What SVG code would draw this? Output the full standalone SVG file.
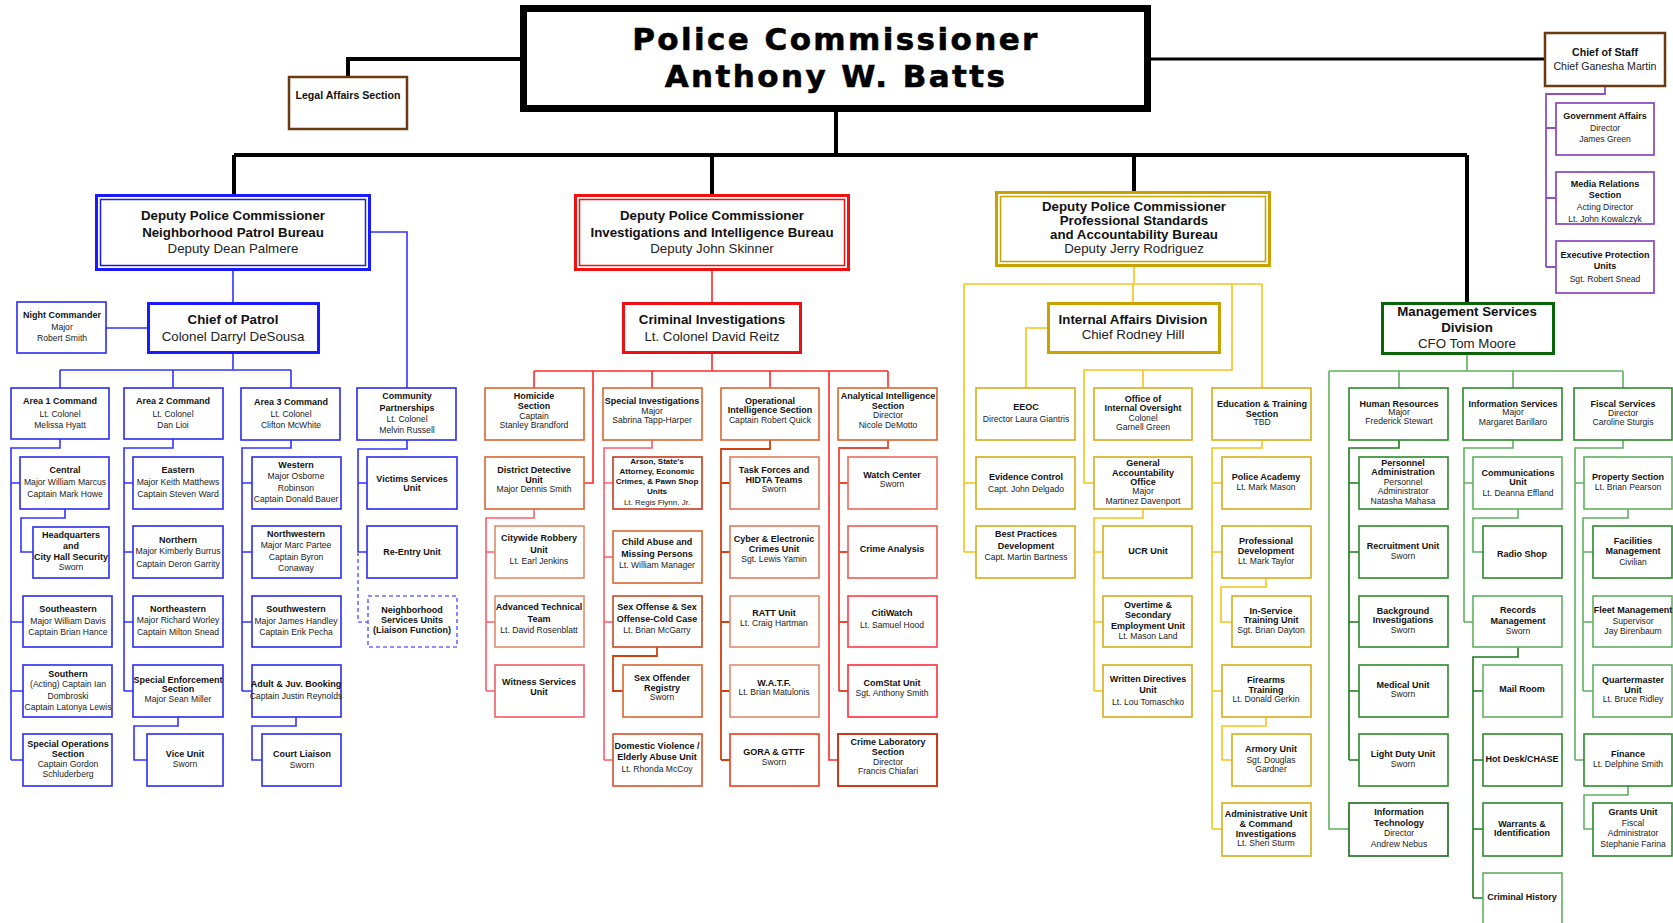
<svg xmlns="http://www.w3.org/2000/svg" width="1673" height="923" viewBox="0 0 1673 923">
<style>
text{font-family:"Liberation Sans",Arial,sans-serif;text-anchor:middle;fill:#222}
.b{font-weight:bold;fill:#111}
.s9{font-size:8.6px}
.s9 .b,.s9.b{font-size:9px}
.s8{font-size:8px}
.s10{font-size:10.6px}
.s13{font-size:13.3px}
.pc{font-family:"DejaVu Sans",sans-serif;font-weight:bold;font-size:31px;letter-spacing:2.4px;fill:#000;stroke:#000;stroke-width:0.6}
rect{fill:#fff}
.bb{stroke:#2b2bf0;stroke-width:1.6}
.bd{stroke:#6a6aff;stroke-width:1.6;stroke-dasharray:4 3}
.rb{stroke:#e8352a;stroke-width:1.6}
.ro{stroke:#d9662f;stroke-width:1.6}
.rs{stroke:#f05a64;stroke-width:1.6}
.gb{stroke:#d6ad1a;stroke-width:1.6}
.grb{stroke:#2a8a2a;stroke-width:1.6}
.grl{stroke:#5fb05f;stroke-width:1.6}
.pb{stroke:#9050c4;stroke-width:1.8}
.br{stroke:#6b3a10;stroke-width:2.5}
.lb,.lr,.lro,.lg,.lgr,.lgl,.lp,.lk,.lbd{fill:none}
.lb{stroke:#3333ff;stroke-width:1.6}
.lbd{stroke:#6a6aff;stroke-width:1.6;stroke-dasharray:4 3}
.lr{stroke:#ff2a2a;stroke-width:1.6}
.lrs{fill:none;stroke:#ff5c6a;stroke-width:1.6}
.lro{stroke:#d2400f;stroke-width:1.8}
.lg{stroke:#f5c518;stroke-width:1.6}
.lgr{stroke:#1c7a1c;stroke-width:1.6}
.lgl{stroke:#5fb05f;stroke-width:1.6}
.lp{stroke:#9050c4;stroke-width:1.8}
.lk{stroke:#000;stroke-width:4}
</style>

<g id="connectors">
  <path class="lk" d="M520 59H348V77"/>
  <path class="lk" d="M1151 59H1545" style="stroke-width:3"/>
  <path class="lk" d="M836 112V155M234 155H1467M234 155V194M712 155V194M1134 155V191M1467 155V302"/>
  <path class="lp" d="M1605 86V94H1546V267M1546 128H1556M1546 198H1556M1546 267H1556"/>
  <path class="lb" d="M371 232H407V388M233 271V302M106 328H147M233 354V370M60 370H291M60 370V388M173 370V388M291 370V388"/>
  <path class="lb" d="M60 439V448H11V760M11 483H20M11 622H23M11 691H23M11 760H23M65 509V518H21V552H33"/>
  <path class="lb" d="M173 439V448H124V691M124 483H133M124 552H133M124 622H133M124 691H133M178 717V726H134V760H147"/>
  <path class="lb" d="M291 440V448H242V691M242 483H252M242 552H252M242 622H252M242 691H252M296 717V726H252V760H262"/>
  <path class="lb" d="M407 440V449H358V552M358 483H367M358 552H367"/>
  <path class="lbd" d="M358 552V622H368"/>
  <path class="lr" d="M712 271V302M712 354V371M534 371H888M534 371V388M593 371V483H584M652 371V388M770 371V388M829 371V760H838M888 371V388"/>
  <path class="lrs" d="M534 509V518H486V691M486 552H495M486 622H495M486 691H495"/>
  <path class="lrs" d="M652 440V448H604V760M604 483H613M604 557H613M604 622H613M604 760H613"/>
  <path class="lro" d="M657 647V656H613V691H623"/>
  <path class="lro" d="M770 440V449H721V760M721 483H730M721 552H730M721 622H730M721 691H730M721 760H730"/>
  <path class="lro" d="M888 440V448H839V691M839 483H848M839 552H848M839 622H848M839 691H848" style="stroke:#e84a3a"/>
  <path class="lg" d="M1134 267V284M964 284H1262M964 284V552M964 483H976M964 552H976M1133 284V302M1232 284V370H1084V483H1094M1143 370V388M1262 284V388M1047 328H1026V388"/>
  <path class="lg" d="M1143 509V518H1094V691M1094 552H1103M1094 622H1103M1094 691H1103"/>
  <path class="lg" d="M1262 440V448H1212V829M1212 483H1222M1212 552H1222M1212 691H1222M1212 829H1222M1266 578V587H1221V622H1232M1266 717V726H1222V760H1232"/>
  <path class="lgl" d="M1467 354V371M1329 371H1623M1329 371V829H1349M1399 371V388M1513 371V388M1623 371V388"/>
  <path class="lgr" d="M1399 440V448H1349V760M1349 483H1359M1349 552H1359M1349 622H1359M1349 691H1359M1349 760H1359"/>
  <path class="lgl" d="M1513 440V448H1464V622M1464 483H1473M1464 622H1473M1518 509V518H1473V552H1483"/>
  <path class="lgr" d="M1518 647V657H1473V898M1473 691H1483M1473 760H1483M1473 829H1483M1473 898H1483"/>
  <path class="lgl" d="M1623 440V448H1575V760M1575 483H1584M1575 760H1584M1628 509V518H1583V691M1583 552H1593M1583 622H1593M1583 691H1593M1628 786V795H1584V829H1593"/>
</g>

<g id="commissioner"><rect x="523.5" y="8.5" width="624" height="100" style="stroke:#000;stroke-width:7"/>
<text class="pc" x="836" y="50">Police Commissioner</text><text class="pc" x="836" y="87">Anthony W. Batts</text></g>
<g id="legal"><rect class="br" x="289" y="77" width="118" height="52"/><text class="b s10" x="348" y="99">Legal Affairs Section</text></g>
<g id="chief-of-staff"><rect class="br" x="1545" y="33" width="120" height="53"/><text class="b s10" x="1605" y="56">Chief of Staff</text><text class="s10" x="1605" y="70">Chief Ganesha Martin</text></g>
<g id="gov-affairs"><rect class="pb" x="1556" y="103" width="98" height="52"/><text class="s9"><tspan class="b" x="1605" y="119">Government Affairs</tspan><tspan x="1605" y="131">Director</tspan><tspan x="1605" y="142">James Green</tspan></text></g>
<g id="media"><rect class="pb" x="1556" y="172" width="98" height="52"/><text class="s9"><tspan class="b" x="1605" y="187">Media Relations</tspan><tspan class="b" x="1605" y="198">Section</tspan><tspan x="1605" y="210">Acting Director</tspan><tspan x="1605" y="222">Lt. John Kowalczyk</tspan></text></g>
<g id="exec-protection"><rect class="pb" x="1556" y="241" width="98" height="52"/><text class="s9"><tspan class="b" x="1605" y="258">Executive Protection</tspan><tspan class="b" x="1605" y="269">Units</tspan><tspan x="1605" y="282">Sgt. Robert Snead</tspan></text></g>

<g id="npb"><rect x="96.5" y="195.5" width="273" height="74" style="stroke:#1a1aff;stroke-width:3"/><rect x="100.5" y="199.5" width="265" height="66" style="stroke:#1a1aff;stroke-width:1.5"/>
<text class="s13"><tspan class="b" x="233" y="220">Deputy Police Commissioner</tspan><tspan class="b" x="233" y="237">Neighborhood Patrol Bureau</tspan><tspan x="233" y="253">Deputy Dean Palmere</tspan></text></g>
<g id="iib"><rect x="575.5" y="195.5" width="273" height="74" style="stroke:#f01010;stroke-width:3"/><rect x="579.5" y="199.5" width="265" height="66" style="stroke:#f01010;stroke-width:1.5"/>
<text class="s13"><tspan class="b" x="712" y="220">Deputy Police Commissioner</tspan><tspan class="b" x="712" y="237">Investigations and Intelligence Bureau</tspan><tspan x="712" y="253">Deputy John Skinner</tspan></text></g>
<g id="psab"><rect x="996.5" y="192.5" width="273" height="73" style="stroke:#c9a200;stroke-width:3"/><rect x="1000.5" y="196.5" width="265" height="65" style="stroke:#c9a200;stroke-width:1.5"/>
<text class="s13"><tspan class="b" x="1134" y="211">Deputy Police Commissioner</tspan><tspan class="b" x="1134" y="225">Professional Standards</tspan><tspan class="b" x="1134" y="239">and Accountability Bureau</tspan><tspan x="1134" y="253">Deputy Jerry Rodriguez</tspan></text></g>
<g id="msd"><rect x="1382.5" y="303.5" width="171" height="50" style="stroke:#0a640a;stroke-width:3"/>
<text class="s13"><tspan class="b" x="1467" y="316">Management Services</tspan><tspan class="b" x="1467" y="332">Division</tspan><tspan x="1467" y="348">CFO Tom Moore</tspan></text></g>

<g id="chief-patrol"><rect x="148.5" y="303.5" width="170" height="49" style="stroke:#1a1aff;stroke-width:3"/><text class="s13"><tspan class="b" x="233" y="324">Chief of Patrol</tspan><tspan x="233" y="341">Colonel Darryl DeSousa</tspan></text></g>
<g id="night-commander"><rect class="bb" x="17" y="302" width="89" height="51"/><text class="s9"><tspan class="b" x="62" y="318">Night Commander</tspan><tspan x="62" y="330">Major</tspan><tspan x="62" y="341">Robert Smith</tspan></text></g>
<g id="area1"><rect class="bb" x="11" y="388" width="98" height="51"/><text class="s9"><tspan class="b" x="60" y="404">Area 1 Command</tspan><tspan x="60" y="417">Lt. Colonel</tspan><tspan x="60" y="428">Melissa Hyatt</tspan></text></g>
<g id="area2"><rect class="bb" x="124" y="388" width="99" height="51"/><text class="s9"><tspan class="b" x="173" y="404">Area 2 Command</tspan><tspan x="173" y="417">Lt. Colonel</tspan><tspan x="173" y="428">Dan Lioi</tspan></text></g>
<g id="area3"><rect class="bb" x="241" y="388" width="99" height="52"/><text class="s9"><tspan class="b" x="291" y="405">Area 3 Command</tspan><tspan x="291" y="417">Lt. Colonel</tspan><tspan x="291" y="428">Clifton McWhite</tspan></text></g>
<g id="community"><rect class="bb" x="357" y="388" width="99" height="52"/><text class="s9"><tspan class="b" x="407" y="399">Community</tspan><tspan class="b" x="407" y="411">Partnerships</tspan><tspan x="407" y="422">Lt. Colonel</tspan><tspan x="407" y="433">Melvin Russell</tspan></text></g>
<g id="central"><rect class="bb" x="20" y="457" width="89" height="52"/><text class="s9"><tspan class="b" x="65" y="473">Central</tspan><tspan x="65" y="485">Major William Marcus</tspan><tspan x="65" y="497">Captain Mark Howe</tspan></text></g>
<g id="hq"><rect class="bb" x="33" y="527" width="76" height="51"/><text class="s9"><tspan class="b" x="71" y="538">Headquarters</tspan><tspan class="b" x="71" y="549">and</tspan><tspan class="b" x="71" y="560">City Hall Security</tspan><tspan x="71" y="570">Sworn</tspan></text></g>
<g id="southeastern"><rect class="bb" x="23" y="596" width="89" height="51"/><text class="s9"><tspan class="b" x="68" y="612">Southeastern</tspan><tspan x="68" y="624">Major William Davis</tspan><tspan x="68" y="635">Captain Brian Hance</tspan></text></g>
<g id="southern"><rect class="bb" x="23" y="665" width="89" height="52"/><text class="s9"><tspan class="b" x="68" y="677">Southern</tspan><tspan x="68" y="687">(Acting) Captain Ian</tspan><tspan x="68" y="699">Dombroski</tspan><tspan x="68" y="710">Captain Latonya Lewis</tspan></text></g>
<g id="special-ops"><rect class="bb" x="23" y="734" width="89" height="52"/><text class="s9"><tspan class="b" x="68" y="747">Special Operations</tspan><tspan class="b" x="68" y="757">Section</tspan><tspan x="68" y="767">Captain Gordon</tspan><tspan x="68" y="777">Schluderberg</tspan></text></g>
<g id="eastern"><rect class="bb" x="133" y="457" width="90" height="52"/><text class="s9"><tspan class="b" x="178" y="473">Eastern</tspan><tspan x="178" y="485">Major Keith Matthews</tspan><tspan x="178" y="497">Captain Steven Ward</tspan></text></g>
<g id="northern"><rect class="bb" x="133" y="526" width="90" height="52"/><text class="s9"><tspan class="b" x="178" y="543">Northern</tspan><tspan x="178" y="554">Major Kimberly Burrus</tspan><tspan x="178" y="567">Captain Deron Garrity</tspan></text></g>
<g id="northeastern"><rect class="bb" x="133" y="596" width="90" height="51"/><text class="s9"><tspan class="b" x="178" y="612">Northeastern</tspan><tspan x="178" y="623">Major Richard Worley</tspan><tspan x="178" y="635">Captain Milton Snead</tspan></text></g>
<g id="special-enforcement"><rect class="bb" x="133" y="665" width="90" height="52"/><text class="s9"><tspan class="b" x="178" y="683">Special Enforcement</tspan><tspan class="b" x="178" y="692">Section</tspan><tspan x="178" y="702">Major Sean Miller</tspan></text></g>
<g id="vice"><rect class="bb" x="147" y="734" width="76" height="52"/><text class="s9"><tspan class="b" x="185" y="757">Vice Unit</tspan><tspan x="185" y="767">Sworn</tspan></text></g>
<g id="western"><rect class="bb" x="252" y="457" width="89" height="52"/><text class="s9"><tspan class="b" x="296" y="468">Western</tspan><tspan x="296" y="479">Major Osborne</tspan><tspan x="296" y="491">Robinson</tspan><tspan x="296" y="502">Captain Donald Bauer</tspan></text></g>
<g id="northwestern"><rect class="bb" x="252" y="526" width="89" height="52"/><text class="s9"><tspan class="b" x="296" y="537">Northwestern</tspan><tspan x="296" y="548">Major Marc Partee</tspan><tspan x="296" y="560">Captain Byron</tspan><tspan x="296" y="571">Conaway</tspan></text></g>
<g id="southwestern"><rect class="bb" x="252" y="596" width="89" height="51"/><text class="s9"><tspan class="b" x="296" y="612">Southwestern</tspan><tspan x="296" y="624">Major James Handley</tspan><tspan x="296" y="635">Captain Erik Pecha</tspan></text></g>
<g id="booking"><rect class="bb" x="252" y="665" width="89" height="52"/><text class="s9"><tspan class="b" x="296" y="687">Adult &amp; Juv. Booking</tspan><tspan x="296" y="699">Captain Justin Reynolds</tspan></text></g>
<g id="court-liaison"><rect class="bb" x="262" y="734" width="79" height="52"/><text class="s9"><tspan class="b" x="302" y="757">Court Liaison</tspan><tspan x="302" y="768">Sworn</tspan></text></g>
<g id="victims"><rect class="bb" x="367" y="457" width="90" height="52"/><text class="s9"><tspan class="b" x="412" y="482">Victims Services</tspan><tspan class="b" x="412" y="491">Unit</tspan></text></g>
<g id="reentry"><rect class="bb" x="367" y="526" width="90" height="52"/><text class="s9 b" x="412" y="555">Re-Entry Unit</text></g>
<g id="nsu"><rect class="bd" x="368" y="596" width="89" height="51"/><text class="s9 b"><tspan x="412" y="613">Neighborhood</tspan><tspan x="412" y="623">Services Units</tspan><tspan x="412" y="633">(Liaison Function)</tspan></text></g>

<g id="criminal-investigations"><rect x="623.5" y="303.5" width="177" height="49" style="stroke:#ee1111;stroke-width:3"/><text class="s13"><tspan class="b" x="712" y="324">Criminal Investigations</tspan><tspan x="712" y="341">Lt. Colonel David Reitz</tspan></text></g>
<g id="homicide"><rect class="ro" x="485" y="388" width="99" height="52"/><text class="s9"><tspan class="b" x="534" y="399">Homicide</tspan><tspan class="b" x="534" y="409">Section</tspan><tspan x="534" y="419">Captain</tspan><tspan x="534" y="428">Stanley Brandford</tspan></text></g>
<g id="district-detective"><rect class="ro" x="485" y="457" width="99" height="52"/><text class="s9"><tspan class="b" x="534" y="473">District Detective</tspan><tspan class="b" x="534" y="483">Unit</tspan><tspan x="534" y="492">Major Dennis Smith</tspan></text></g>
<g id="citywide-robbery"><rect class="ro" x="495" y="526" width="89" height="52" style="stroke:#e08a6a"/><text class="s9"><tspan class="b" x="539" y="541">Citywide Robbery</tspan><tspan class="b" x="539" y="553">Unit</tspan><tspan x="539" y="564">Lt. Earl Jenkins</tspan></text></g>
<g id="advanced-technical"><rect class="ro" x="495" y="596" width="89" height="51" style="stroke:#e08a6a"/><text class="s9"><tspan class="b" x="539" y="610">Advanced Technical</tspan><tspan class="b" x="539" y="622">Team</tspan><tspan x="539" y="633">Lt. David Rosenblatt</tspan></text></g>
<g id="witness"><rect class="rs" x="495" y="665" width="89" height="52"/><text class="s9 b"><tspan x="539" y="685">Witness Services</tspan><tspan x="539" y="695">Unit</tspan></text></g>
<g id="special-investigations"><rect class="ro" x="603" y="388" width="99" height="52"/><text class="s9"><tspan class="b" x="652" y="404">Special Investigations</tspan><tspan x="652" y="414">Major</tspan><tspan x="652" y="423">Sabrina Tapp-Harper</tspan></text></g>
<g id="arson"><rect class="rb" x="613" y="457" width="89" height="52" style="stroke:#c83a1a"/><text class="s8"><tspan class="b" x="657" y="464">Arson, State's</tspan><tspan class="b" x="657" y="474">Attorney, Economic</tspan><tspan class="b" x="657" y="484">Crimes, &amp; Pawn Shop</tspan><tspan class="b" x="657" y="494">Units</tspan><tspan x="657" y="505">Lt. Regis Flynn, Jr.</tspan></text></g>
<g id="child-abuse"><rect class="ro" x="613" y="531" width="89" height="52"/><text class="s9"><tspan class="b" x="657" y="545">Child Abuse and</tspan><tspan class="b" x="657" y="557">Missing Persons</tspan><tspan x="657" y="568">Lt. William Manager</tspan></text></g>
<g id="sex-offense"><rect class="ro" x="613" y="596" width="89" height="51" style="stroke:#c84a22"/><text class="s9"><tspan class="b" x="657" y="610">Sex Offense &amp; Sex</tspan><tspan class="b" x="657" y="622">Offense-Cold Case</tspan><tspan x="657" y="633">Lt. Brian McGarry</tspan></text></g>
<g id="sex-offender-registry"><rect class="ro" x="623" y="665" width="79" height="52"/><text class="s9"><tspan class="b" x="662" y="681">Sex Offender</tspan><tspan class="b" x="662" y="691">Registry</tspan><tspan x="662" y="700">Sworn</tspan></text></g>
<g id="domestic-violence"><rect class="ro" x="613" y="734" width="89" height="52" style="stroke:#d9502a"/><text class="s9"><tspan class="b" x="657" y="749">Domestic Violence /</tspan><tspan class="b" x="657" y="760">Elderly Abuse Unit</tspan><tspan x="657" y="772">Lt. Rhonda McCoy</tspan></text></g>
<g id="operational-intelligence"><rect class="ro" x="721" y="388" width="98" height="52"/><text class="s9"><tspan class="b" x="770" y="404">Operational</tspan><tspan class="b" x="770" y="413">Intelligence Section</tspan><tspan x="770" y="423">Captain Robert Quick</tspan></text></g>
<g id="task-forces"><rect class="ro" x="730" y="457" width="89" height="52" style="stroke:#e07a5a"/><text class="s9"><tspan class="b" x="774" y="473">Task Forces and</tspan><tspan class="b" x="774" y="483">HIDTA Teams</tspan><tspan x="774" y="492">Sworn</tspan></text></g>
<g id="cyber"><rect class="ro" x="730" y="526" width="89" height="52" style="stroke:#e07a5a"/><text class="s9"><tspan class="b" x="774" y="542">Cyber &amp; Electronic</tspan><tspan class="b" x="774" y="552">Crimes Unit</tspan><tspan x="774" y="562">Sgt. Lewis Yamin</tspan></text></g>
<g id="ratt"><rect class="ro" x="730" y="596" width="89" height="51" style="stroke:#e08a6a"/><text class="s9"><tspan class="b" x="774" y="616">RATT Unit</tspan><tspan x="774" y="626">Lt. Craig Hartman</tspan></text></g>
<g id="watf"><rect class="ro" x="730" y="665" width="89" height="52" style="stroke:#e08a6a"/><text class="s9"><tspan class="b" x="774" y="686">W.A.T.F.</tspan><tspan x="774" y="695">Lt. Brian Matulonis</tspan></text></g>
<g id="gora"><rect class="rb" x="730" y="734" width="89" height="52" style="stroke:#ee3a1a"/><text class="s9"><tspan class="b" x="774" y="755">GORA &amp; GTTF</tspan><tspan x="774" y="765">Sworn</tspan></text></g>
<g id="analytical-intelligence"><rect class="ro" x="838" y="388" width="99" height="52"/><text class="s9"><tspan class="b" x="888" y="399">Analytical Intelligence</tspan><tspan class="b" x="888" y="409">Section</tspan><tspan x="888" y="418">Director</tspan><tspan x="888" y="428">Nicole DeMotto</tspan></text></g>
<g id="watch-center"><rect class="rs" x="848" y="457" width="89" height="52" style="stroke:#ee6a5a"/><text class="s9"><tspan class="b" x="892" y="478">Watch Center</tspan><tspan x="892" y="487">Sworn</tspan></text></g>
<g id="crime-analysis"><rect class="rs" x="848" y="526" width="89" height="52" style="stroke:#ee5a5a"/><text class="s9 b" x="892" y="552">Crime Analysis</text></g>
<g id="citiwatch"><rect class="rs" x="848" y="596" width="89" height="51" style="stroke:#ff3a4a"/><text class="s9"><tspan class="b" x="892" y="616">CitiWatch</tspan><tspan x="892" y="628">Lt. Samuel Hood</tspan></text></g>
<g id="comstat"><rect class="rs" x="848" y="665" width="89" height="52" style="stroke:#ff2a3a"/><text class="s9"><tspan class="b" x="892" y="686">ComStat Unit</tspan><tspan x="892" y="696">Sgt. Anthony Smith</tspan></text></g>
<g id="crime-lab"><rect class="rb" x="838" y="734" width="99" height="52" style="stroke:#cc3a1a;stroke-width:2"/><text class="s9"><tspan class="b" x="888" y="745">Crime Laboratory</tspan><tspan class="b" x="888" y="755">Section</tspan><tspan x="888" y="765">Director</tspan><tspan x="888" y="774">Francis Chiafari</tspan></text></g>

<g id="internal-affairs"><rect x="1048.5" y="303.5" width="171" height="49" style="stroke:#c9a200;stroke-width:3"/><text class="s13"><tspan class="b" x="1133" y="324">Internal Affairs Division</tspan><tspan x="1133" y="339">Chief Rodney Hill</tspan></text></g>
<g id="eeoc"><rect class="gb" x="976" y="388" width="99" height="52"/><text class="s9"><tspan class="b" x="1026" y="410">EEOC</tspan><tspan x="1026" y="422">Director Laura Giantris</tspan></text></g>
<g id="evidence-control"><rect class="gb" x="976" y="457" width="99" height="52"/><text class="s9"><tspan class="b" x="1026" y="480">Evidence Control</tspan><tspan x="1026" y="492">Capt. John Delgado</tspan></text></g>
<g id="best-practices"><rect class="gb" x="976" y="526" width="99" height="52"/><text class="s9"><tspan class="b" x="1026" y="537">Best Practices</tspan><tspan class="b" x="1026" y="549">Development</tspan><tspan x="1026" y="560">Capt. Martin Bartness</tspan></text></g>
<g id="internal-oversight"><rect class="gb" x="1094" y="388" width="98" height="52"/><text class="s9"><tspan class="b" x="1143" y="402">Office of</tspan><tspan class="b" x="1143" y="411">Internal Oversight</tspan><tspan x="1143" y="421">Colonel</tspan><tspan x="1143" y="430">Garnell Green</tspan></text></g>
<g id="gao"><rect class="gb" x="1094" y="457" width="98" height="52"/><text class="s9"><tspan class="b" x="1143" y="466">General</tspan><tspan class="b" x="1143" y="476">Accountability</tspan><tspan class="b" x="1143" y="485">Office</tspan><tspan x="1143" y="494">Major</tspan><tspan x="1143" y="504">Martinez Davenport</tspan></text></g>
<g id="ucr"><rect class="gb" x="1103" y="526" width="89" height="52"/><text class="s9 b" x="1148" y="554">UCR Unit</text></g>
<g id="overtime"><rect class="gb" x="1103" y="596" width="89" height="51"/><text class="s9"><tspan class="b" x="1148" y="608">Overtime &amp;</tspan><tspan class="b" x="1148" y="618">Secondary</tspan><tspan class="b" x="1148" y="629">Employment Unit</tspan><tspan x="1148" y="639">Lt. Mason Land</tspan></text></g>
<g id="written-directives"><rect class="gb" x="1103" y="665" width="89" height="52"/><text class="s9"><tspan class="b" x="1148" y="682">Written Directives</tspan><tspan class="b" x="1148" y="693">Unit</tspan><tspan x="1148" y="705">Lt. Lou Tomaschko</tspan></text></g>
<g id="education-training"><rect class="gb" x="1212" y="388" width="99" height="52"/><text class="s9"><tspan class="b" x="1262" y="407">Education &amp; Training</tspan><tspan class="b" x="1262" y="417">Section</tspan><tspan x="1262" y="425">TBD</tspan></text></g>
<g id="police-academy"><rect class="gb" x="1222" y="457" width="89" height="52"/><text class="s9"><tspan class="b" x="1266" y="480">Police Academy</tspan><tspan x="1266" y="490">Lt. Mark Mason</tspan></text></g>
<g id="professional-development"><rect class="gb" x="1222" y="526" width="89" height="52"/><text class="s9"><tspan class="b" x="1266" y="544">Professional</tspan><tspan class="b" x="1266" y="554">Development</tspan><tspan x="1266" y="564">Lt. Mark Taylor</tspan></text></g>
<g id="in-service"><rect class="gb" x="1232" y="596" width="79" height="51"/><text class="s9"><tspan class="b" x="1271" y="614">In-Service</tspan><tspan class="b" x="1271" y="623">Training Unit</tspan><tspan x="1271" y="633">Sgt. Brian Dayton</tspan></text></g>
<g id="firearms"><rect class="gb" x="1222" y="665" width="89" height="52"/><text class="s9"><tspan class="b" x="1266" y="683">Firearms</tspan><tspan class="b" x="1266" y="693">Training</tspan><tspan x="1266" y="702">Lt. Donald Gerkin</tspan></text></g>
<g id="armory"><rect class="gb" x="1232" y="734" width="79" height="52"/><text class="s9"><tspan class="b" x="1271" y="752">Armory Unit</tspan><tspan x="1271" y="763">Sgt. Douglas</tspan><tspan x="1271" y="772">Gardner</tspan></text></g>
<g id="admin-unit"><rect class="gb" x="1222" y="803" width="89" height="53"/><text class="s9"><tspan class="b" x="1266" y="817">Administrative Unit</tspan><tspan class="b" x="1266" y="827">&amp; Command</tspan><tspan class="b" x="1266" y="837">Investigations</tspan><tspan x="1266" y="846">Lt. Sheri Sturm</tspan></text></g>

<g id="human-resources"><rect class="grb" x="1349" y="388" width="99" height="52"/><text class="s9"><tspan class="b" x="1399" y="407">Human Resources</tspan><tspan x="1399" y="415">Major</tspan><tspan x="1399" y="424">Frederick Stewart</tspan></text></g>
<g id="personnel-admin"><rect class="grb" x="1359" y="457" width="89" height="52"/><text class="s9"><tspan class="b" x="1403" y="466">Personnel</tspan><tspan class="b" x="1403" y="475">Administration</tspan><tspan x="1403" y="485">Personnel</tspan><tspan x="1403" y="494">Administrator</tspan><tspan x="1403" y="504">Natasha Mahasa</tspan></text></g>
<g id="recruitment"><rect class="grb" x="1359" y="526" width="89" height="52"/><text class="s9"><tspan class="b" x="1403" y="549">Recruitment Unit</tspan><tspan x="1403" y="559">Sworn</tspan></text></g>
<g id="background"><rect class="grb" x="1359" y="596" width="89" height="51"/><text class="s9"><tspan class="b" x="1403" y="614">Background</tspan><tspan class="b" x="1403" y="623">Investigations</tspan><tspan x="1403" y="633">Sworn</tspan></text></g>
<g id="medical"><rect class="grb" x="1359" y="665" width="89" height="52"/><text class="s9"><tspan class="b" x="1403" y="688">Medical Unit</tspan><tspan x="1403" y="697">Sworn</tspan></text></g>
<g id="light-duty"><rect class="grb" x="1359" y="734" width="89" height="52"/><text class="s9"><tspan class="b" x="1403" y="757">Light Duty Unit</tspan><tspan x="1403" y="767">Sworn</tspan></text></g>
<g id="info-tech"><rect class="grb" x="1349" y="803" width="99" height="53" style="stroke:#1a6a1a"/><text class="s9"><tspan class="b" x="1399" y="815">Information</tspan><tspan class="b" x="1399" y="826">Technology</tspan><tspan x="1399" y="836">Director</tspan><tspan x="1399" y="847">Andrew Nebus</tspan></text></g>
<g id="info-services"><rect class="grb" x="1463" y="388" width="99" height="52"/><text class="s9"><tspan class="b" x="1513" y="407">Information Services</tspan><tspan x="1513" y="415">Major</tspan><tspan x="1513" y="425">Margaret Barillaro</tspan></text></g>
<g id="communications"><rect class="grl" x="1473" y="457" width="89" height="52"/><text class="s9"><tspan class="b" x="1518" y="476">Communications</tspan><tspan class="b" x="1518" y="485">Unit</tspan><tspan x="1518" y="496">Lt. Deanna Effland</tspan></text></g>
<g id="radio-shop"><rect class="grb" x="1483" y="526" width="79" height="52"/><text class="s9 b" x="1522" y="557">Radio Shop</text></g>
<g id="records"><rect class="grl" x="1473" y="596" width="89" height="51"/><text class="s9"><tspan class="b" x="1518" y="613">Records</tspan><tspan class="b" x="1518" y="624">Management</tspan><tspan x="1518" y="634">Sworn</tspan></text></g>
<g id="mail-room"><rect class="grl" x="1483" y="665" width="79" height="52"/><text class="s9 b" x="1522" y="692">Mail Room</text></g>
<g id="hot-desk"><rect class="grb" x="1483" y="734" width="79" height="52"/><text class="s9 b" x="1522" y="762">Hot Desk/CHASE</text></g>
<g id="warrants"><rect class="grb" x="1483" y="803" width="79" height="53"/><text class="s9 b"><tspan x="1522" y="827">Warrants &amp;</tspan><tspan x="1522" y="836">Identification</tspan></text></g>
<g id="criminal-history"><rect class="grl" x="1483" y="873" width="79" height="55"/><text class="s9 b" x="1522" y="900">Criminal History</text></g>
<g id="fiscal-services"><rect class="grb" x="1574" y="388" width="98" height="52"/><text class="s9"><tspan class="b" x="1623" y="407">Fiscal Services</tspan><tspan x="1623" y="416">Director</tspan><tspan x="1623" y="425">Caroline Sturgis</tspan></text></g>
<g id="property"><rect class="grl" x="1584" y="457" width="88" height="52"/><text class="s9"><tspan class="b" x="1628" y="480">Property Section</tspan><tspan x="1628" y="490">Lt. Brian Pearson</tspan></text></g>
<g id="facilities"><rect class="grb" x="1593" y="526" width="79" height="52"/><text class="s9"><tspan class="b" x="1633" y="544">Facilities</tspan><tspan class="b" x="1633" y="554">Management</tspan><tspan x="1633" y="565">Civilian</tspan></text></g>
<g id="fleet"><rect class="grl" x="1593" y="596" width="79" height="51"/><text class="s9"><tspan class="b" x="1633" y="613">Fleet Management</tspan><tspan x="1633" y="624">Supervisor</tspan><tspan x="1633" y="634">Jay Birenbaum</tspan></text></g>
<g id="quartermaster"><rect class="grl" x="1593" y="665" width="79" height="52"/><text class="s9"><tspan class="b" x="1633" y="683">Quartermaster</tspan><tspan class="b" x="1633" y="693">Unit</tspan><tspan x="1633" y="702">Lt. Bruce Ridley</tspan></text></g>
<g id="finance"><rect class="grb" x="1584" y="734" width="88" height="52"/><text class="s9"><tspan class="b" x="1628" y="757">Finance</tspan><tspan x="1628" y="767">Lt. Delphine Smith</tspan></text></g>
<g id="grants"><rect class="grb" x="1593" y="803" width="79" height="53"/><text class="s9"><tspan class="b" x="1633" y="815">Grants Unit</tspan><tspan x="1633" y="826">Fiscal</tspan><tspan x="1633" y="836">Administrator</tspan><tspan x="1633" y="847">Stephanie Farina</tspan></text></g>
</svg>
